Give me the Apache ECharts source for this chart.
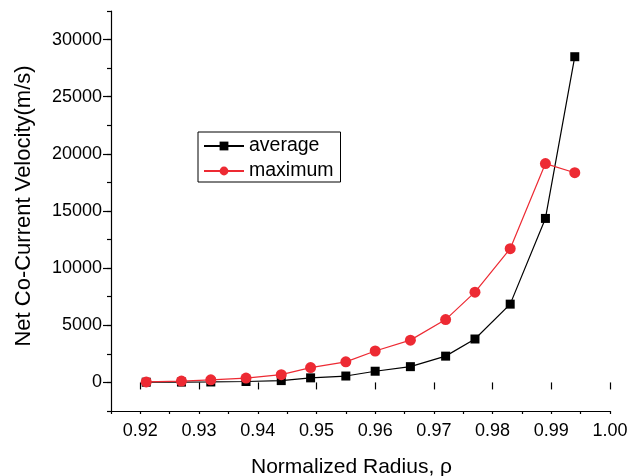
<!DOCTYPE html>
<html>
<head>
<meta charset="utf-8">
<script src="https://cdn.jsdelivr.net/npm/echarts@6/dist/echarts.min.js"></script>
<style>html,body{margin:0;padding:0;background:#fff}#c{width:630px;height:476px}</style>
</head>
<body>
<div id="c"></div>
<script>
const radius = [0.921, 0.927, 0.932, 0.938, 0.944, 0.949, 0.955, 0.960, 0.966, 0.972, 0.977, 0.983, 0.989, 0.994];
const averageVel = [20, 30, 40, 80, 160, 400, 560, 980, 1380, 2300, 3800, 6850, 14350, 28500];
const maximumVel = [40, 120, 230, 380, 680, 1300, 1800, 2750, 3700, 5500, 7900, 11700, 19150, 18350];
const seriesNames = ['average', 'maximum'];
const xTitle = 'Normalized Radius, ρ';
const yTitle = 'Net Co-Current Velocity(m/s)';

const FONT = "'Liberation Sans', Arial, sans-serif";
const RED = '#ed2a33';
const pairs = (xs, ys) => xs.map((x, i) => [x, ys[i]]);

const L = 111, T = 11, W = 499, H = 400;
const yMin = -2500, yMax = 32500, xMin = 0.915, xMax = 1.0;
const yPx = v => T + H * (yMax - v) / (yMax - yMin);
const xPx = v => L + W * (v - xMin) / (xMax - xMin);

const gridBase = {containLabel: false, outerBoundsMode: 'none'};

const chart = echarts.init(document.getElementById('c'), null, {renderer: 'canvas'});
chart.setOption({
  animation: false,
  textStyle: {fontFamily: FONT},
  grid: [
    Object.assign({left: L, top: T, width: W, height: H}, gridBase),
    Object.assign({left: L, top: yPx(30000), width: W, height: yPx(0) - yPx(30000)}, gridBase),
    Object.assign({left: xPx(0.92), top: T, width: xPx(1.0) - xPx(0.92), height: H}, gridBase)
  ],
  xAxis: [
    {gridIndex: 0, type: 'value', min: xMin, max: xMax, interval: 0.005,
     axisLine: {show: true, onZero: false, lineStyle: {color: '#000', width: 1.2}},
     axisTick: {show: true, length: 3, lineStyle: {color: '#000', width: 1.2}},
     axisLabel: {show: false}, splitLine: {show: false},
     name: xTitle, nameLocation: 'middle', nameGap: 46,
     nameTextStyle: {fontSize: 21, color: '#000', fontFamily: FONT, padding: [0, 18, 0, 0]}},
    {gridIndex: 1, type: 'value', min: xMin, max: xMax, show: false},
    {gridIndex: 2, type: 'value', min: 0.92, max: 1.0, interval: 0.01,
     axisLine: {show: false},
     axisTick: {show: true, length: 7, lineStyle: {color: '#000', width: 1.2}},
     axisLabel: {show: true, fontSize: 18, color: '#000', margin: 11, fontFamily: FONT,
                 formatter: v => v.toFixed(2)},
     splitLine: {show: false}}
  ],
  yAxis: [
    {gridIndex: 0, type: 'value', min: yMin, max: yMax, interval: 2500,
     axisLine: {show: true, onZero: false, lineStyle: {color: '#000', width: 1.2}},
     axisTick: {show: true, length: 4, lineStyle: {color: '#000', width: 1.2}},
     axisLabel: {show: false}, splitLine: {show: false},
     name: yTitle, nameLocation: 'middle', nameGap: 76, nameRotate: 90,
     nameTextStyle: {fontSize: 22, color: '#000', fontFamily: FONT, padding: [0, 0, 0, 10]}},
    {gridIndex: 1, type: 'value', min: 0, max: 30000, interval: 5000,
     axisLine: {show: false},
     axisTick: {show: true, length: 8, lineStyle: {color: '#000', width: 1.2}},
     axisLabel: {show: true, fontSize: 18, color: '#000', margin: 9, fontFamily: FONT,
                 formatter: v => String(Math.round(v))},
     splitLine: {show: false}},
    {gridIndex: 2, type: 'value', min: yMin, max: yMax, show: false}
  ],
  legend: {
    orient: 'vertical', left: 198, top: 132,
    borderColor: '#000', borderWidth: 1, padding: [4, 7, 1, 5],
    itemGap: 5, itemWidth: 40, itemHeight: 11,
    textStyle: {fontSize: 19.5, color: '#000', fontFamily: FONT, lineHeight: 18},
    data: seriesNames
  },
  series: [
    {name: seriesNames[0], type: 'line', xAxisIndex: 0, yAxisIndex: 0,
     data: pairs(radius, averageVel), symbol: 'rect', symbolSize: 9, clip: false,
     itemStyle: {color: '#000'}, lineStyle: {color: '#000', width: 1.2}, z: 3},
    {name: seriesNames[1], type: 'line', xAxisIndex: 0, yAxisIndex: 0,
     data: pairs(radius, maximumVel), symbol: 'circle', symbolSize: 11, clip: false,
     itemStyle: {color: RED}, lineStyle: {color: RED, width: 1.2}, z: 4}
  ]
});
</script>
</body>
</html>
